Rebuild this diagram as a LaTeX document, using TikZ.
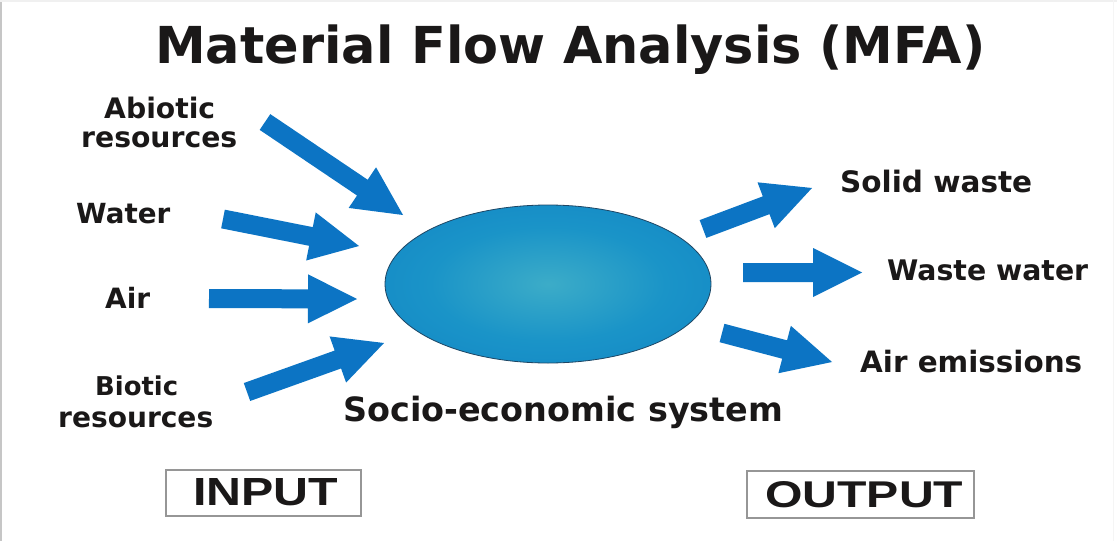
\documentclass[tikz,border=0pt]{standalone}
\usepackage{fontspec}
\setmainfont{DejaVu Sans}
\newfontfamily\boxfont{Liberation Sans}
\usetikzlibrary{calc,shapes.geometric}
\definecolor{flowblue}{RGB}{12,116,196}
\definecolor{textblack}{RGB}{26,24,24}
\definecolor{ballin}{RGB}{60,172,200}
\definecolor{ballmid}{RGB}{26,148,200}
\definecolor{ballout}{RGB}{12,122,196}
\definecolor{ballrim}{RGB}{30,70,100}
\definecolor{boxgray}{RGB}{150,150,150}
\pgfdeclareradialshading{ballshade}{\pgfpoint{0bp}{0bp}}{%
  color(0bp)=(ballin); color(18bp)=(ballmid); color(50bp)=(ballout); color(100bp)=(ballout)}
\newcommand\flowarrow[3]{%
  \coordinate (#3) at ($(#2)!49pt!(#1)$);
  \fill[flowarrow] ($(#1)!9.5pt!90:(#2)$) -- ($(#3)!9.5pt!90:(#2)$) -- ($(#3)!24.5pt!90:(#2)$) -- (#2)
    -- ($(#3)!24.5pt!-90:(#2)$) -- ($(#3)!9.5pt!-90:(#2)$) -- ($(#1)!9.5pt!-90:(#2)$) -- cycle;}
\newcommand\fitw[2]{\resizebox{#1}{!}{#2}}
\begin{document}
\begin{tikzpicture}[x=1pt,y=-1pt,
  lbl/.style={inner sep=0pt, anchor=base west, text=textblack, font=\bfseries},
  flowarrow/.style={fill=flowblue},
  tagbox/.style={draw=boxgray, line width=1.6pt, fill=white},
  tagtext/.style={inner sep=0pt, anchor=base west, text=textblack, font=\boxfont\bfseries}]
\useasboundingbox (0,0) rectangle (1117,541);
\fill[white] (0,0) rectangle (1117,541);
\draw[gray!45, line width=2pt] (1,0) -- (1,541);
\draw[gray!12, line width=1.5pt] (0,1) -- (1117,1);
\draw[gray!8, line width=1pt] (1113,0) -- (1113,541);

% title
\node[lbl] (title) at (155,63) {\fitw{830pt}{Material Flow Analysis (MFA)}};

% central system
\node[ellipse, minimum width=326pt, minimum height=158pt, inner sep=0pt,
      draw=ballrim, line width=0.8pt, shading=ballshade] (sys) at (548,284) {};
\node[lbl] (syslbl) at (343,421) {\fitw{440pt}{Socio-economic system}};

% input labels
\node[lbl] (abio1) at (104,118) {\fitw{111pt}{Abiotic}};
\node[lbl] (abio2) at (81,147) {\fitw{156pt}{resources}};
\node[lbl] (water) at (76,223) {\fitw{94pt}{Water}};
\node[lbl] (air) at (105,308) {\fitw{45pt}{Air}};
\node[lbl] (bio1) at (95,395) {\fitw{83pt}{Biotic}};
\node[lbl] (bio2) at (58,427) {\fitw{155pt}{resources}};

% output labels
\node[lbl] (solid) at (840,192) {\fitw{192pt}{Solid waste}};
\node[lbl] (ww) at (887,280) {\fitw{201pt}{Waste water}};
\node[lbl] (ae) at (860,372) {\fitw{222pt}{Air emissions}};

% arrows
\coordinate (abioT) at (265,122); \coordinate (abioP) at (403,215);
\coordinate (watT) at (223,219);  \coordinate (watP) at (359,246);
\coordinate (airT) at (209,298.5);\coordinate (airP) at (357,299);
\coordinate (bioT) at (247,392);  \coordinate (bioP) at (384,343);
\coordinate (solT) at (703,229);  \coordinate (solP) at (812,188);
\coordinate (wwT) at (743,272.5); \coordinate (wwP) at (862,272.5);
\coordinate (aeT) at (722,333);   \coordinate (aeP) at (832,362);
\flowarrow{abioT}{abioP}{abioB}
\flowarrow{watT}{watP}{watB}
\flowarrow{airT}{airP}{airB}
\flowarrow{bioT}{bioP}{bioB}
\flowarrow{solT}{solP}{solB}
\flowarrow{wwT}{wwP}{wwB}
\flowarrow{aeT}{aeP}{aeB}

% input / output tags
\draw[tagbox] (166,470) rectangle (361,516);
\node[tagtext] (input) at (193,505) {\resizebox{145pt}{27pt}{INPUT}};
\draw[tagbox] (747,471) rectangle (974,518);
\node[tagtext] (output) at (765,507) {\resizebox{198pt}{26pt}{OUTPUT}};
\end{tikzpicture}
\end{document}
